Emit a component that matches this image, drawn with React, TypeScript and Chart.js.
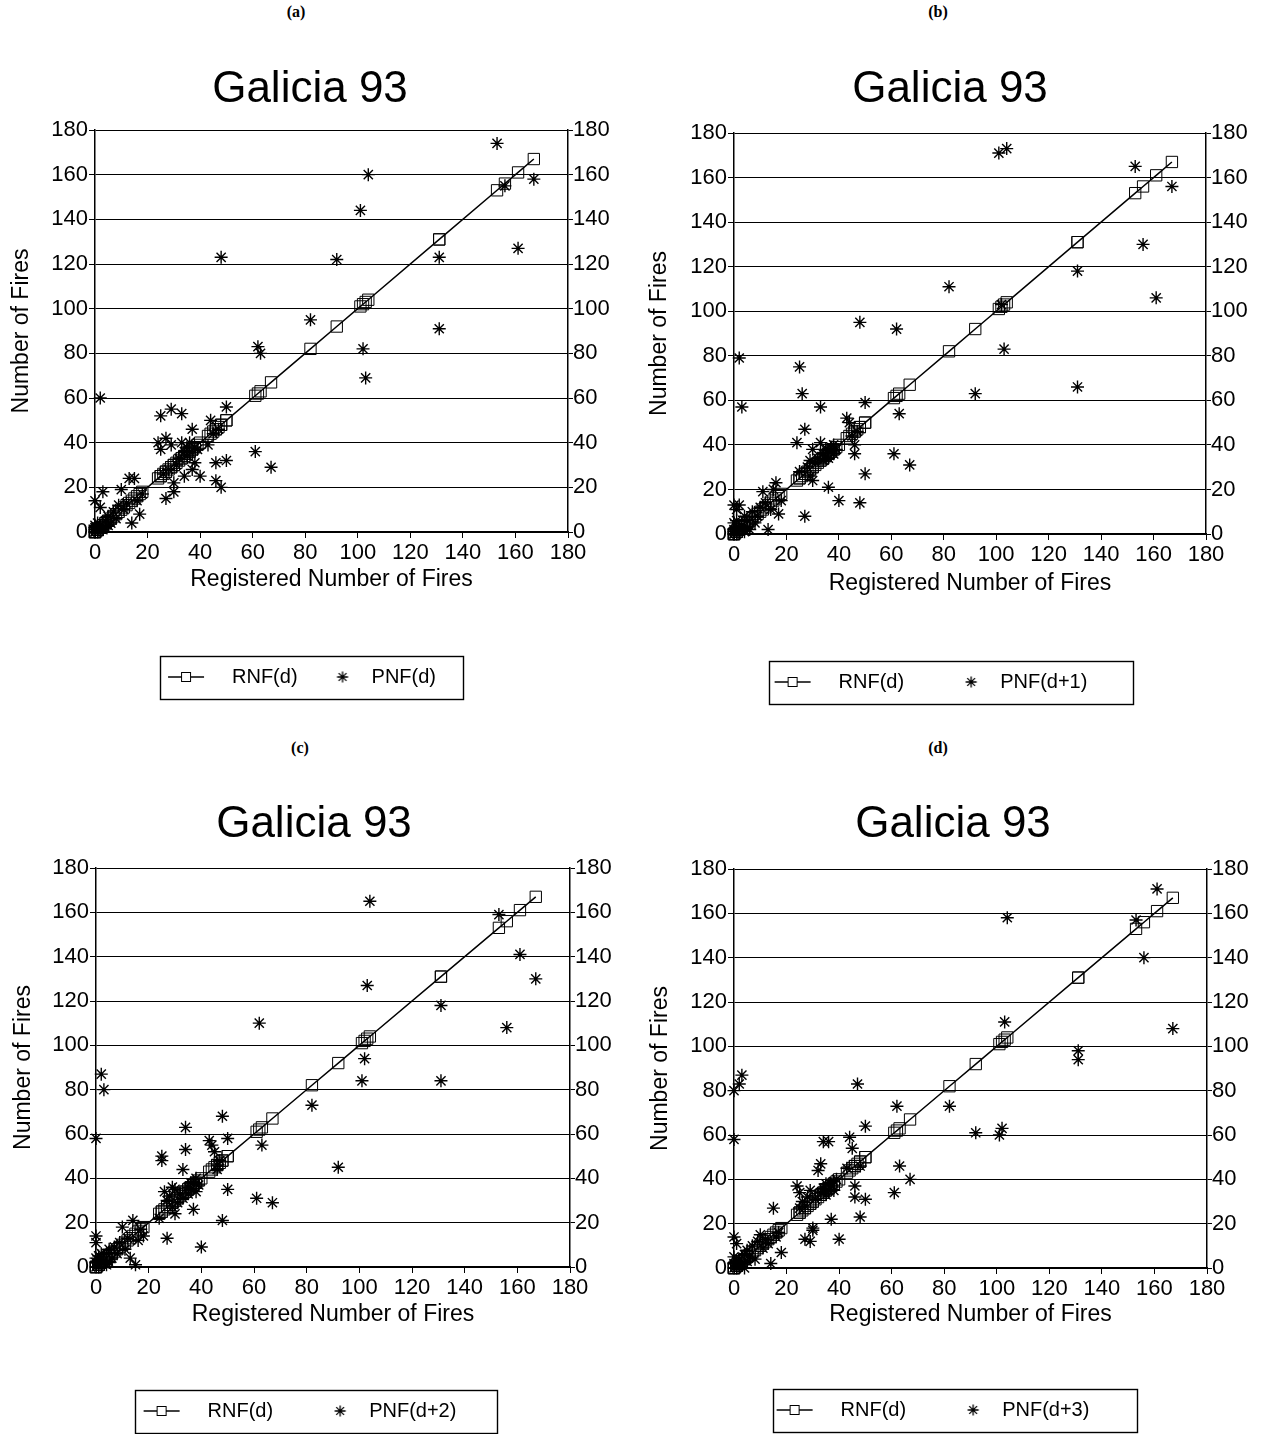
import React, { useEffect, useRef } from 'react';
import { Chart, registerables } from 'chart.js';

Chart.register(...registerables);

// ---------- data ----------
const registered = [
  0, 0, 0, 0, 0, 0, 1, 1, 1, 1, 2, 2, 2, 3, 3, 4, 4, 5, 5, 6, 7, 8, 9, 10, 11, 12, 13, 14, 15, 16, 17, 18,
  24, 25, 25, 26, 27, 27, 28, 29, 29, 30, 30, 31, 32, 33, 33, 34, 34, 35, 35, 36, 36, 37, 37, 38, 38, 39, 40,
  43, 44, 45, 46, 46, 47, 48, 48, 50, 50,
  61, 62, 63, 67, 82, 92, 101, 102, 103, 104, 131, 131, 153, 156, 161, 167,
];

const predictedD0 = [
  14, 0, 2, 1, 3, 0, 2, 0, 4, 1, 60, 11, 3, 18, 1, 5, 2, 7, 3, 4, 9, 6, 12, 19, 10, 13, 24, 4, 24, 14, 8, 17,
  40, 52, 37, 26, 42, 15, 28, 55, 39, 22, 18, 30, 33, 53, 40, 25, 36, 34, 38, 36, 40, 46, 28, 31, 38, 37, 25,
  39, 50, 44, 31, 23, 46, 123, 20, 56, 32,
  36, 83, 80, 29, 95, 122, 144, 82, 69, 160, 123, 91, 174, 155, 127, 158,
];

const predictedD1 = [
  13, 0, 2, 5, 1, 0, 11, 3, 0, 6, 79, 13, 2, 57, 4, 1, 8, 3, 6, 2, 10, 5, 8, 12, 19, 14, 2, 11, 20, 23, 9, 15,
  41, 75, 28, 63, 47, 8, 30, 26, 33, 38, 24, 32, 34, 57, 41, 33, 36, 38, 35, 21, 34, 39, 37, 40, 36, 38, 15,
  52, 50, 44, 40, 36, 46, 95, 14, 59, 27,
  36, 92, 54, 31, 111, 63, 171, 103, 83, 173, 118, 66, 165, 130, 106, 156,
];

const predictedD2 = [
  58, 14, 11, 2, 0, 4, 1, 3, 0, 5, 87, 2, 6, 80, 3, 1, 6, 8, 2, 4, 9, 6, 11, 18, 8, 13, 4, 21, 1, 12, 17, 14,
  22, 50, 48, 34, 13, 30, 32, 36, 27, 35, 24, 29, 33, 44, 31, 63, 53, 36, 33, 38, 35, 26, 38, 34, 40, 37, 9,
  57, 55, 52, 46, 44, 48, 68, 21, 58, 35,
  31, 110, 55, 29, 73, 45, 84, 94, 127, 165, 118, 84, 159, 108, 141, 130,
];

const predictedD3 = [
  80, 58, 14, 2, 0, 5, 11, 0, 3, 1, 83, 4, 1, 87, 2, 6, 0, 3, 8, 5, 10, 4, 12, 15, 9, 13, 11, 2, 27, 14, 16, 7,
  37, 34, 27, 30, 13, 28, 32, 35, 12, 18, 17, 31, 44, 47, 34, 57, 36, 33, 38, 57, 35, 22, 37, 39, 35, 40, 13,
  45, 59, 54, 37, 32, 83, 23, 46, 64, 31,
  34, 73, 46, 40, 73, 61, 60, 63, 111, 158, 98, 94, 157, 140, 171, 108,
];

const axisTicks = [0, 20, 40, 60, 80, 100, 120, 140, 160, 180];
const panelLabels = ['(a)', '(b)', '(c)', '(d)'];
const chartTitle = 'Galicia 93';
const registeredName = 'RNF(d)';
const predictedNames = ['PNF(d)', 'PNF(d+1)', 'PNF(d+2)', 'PNF(d+3)'];
const predictedSeries = [predictedD0, predictedD1, predictedD2, predictedD3];
const xAxisTitle = 'Registered Number of Fires';
const yAxisTitle = 'Number of Fires';

// ---------- layout ----------
const SANS = "'Liberation Sans', Arial, Helvetica, sans-serif";
const SERIF = "'Liberation Serif', 'Times New Roman', serif";
const CANVAS_W = 620;
const LEGEND_FONT = 20;
const LEGEND_PAD = 10;
const PAD_BOTTOM = 4;
const AXIS_TITLE_SIZE = 23;

const layouts = [
  { left: 0, top: 0, plotLeft: 95, plotRight: 568, plotTop: 130, plotBottom: 532, labelX: 296, labelY: 12, titleY: 90, xTitleY: 580, yTitleX: 22, legendCenter: 677, legendShift: 8, boxLeft: 160, boxRight: 463 },
  { left: 640, top: 0, plotLeft: 94, plotRight: 566, plotTop: 133, plotBottom: 534, labelX: 938, labelY: 12, titleY: 90, xTitleY: 584, yTitleX: 20, legendCenter: 682, legendShift: 30, boxLeft: 129, boxRight: 493 },
  { left: 4, top: 735, plotLeft: 92, plotRight: 566, plotTop: 133, plotBottom: 532, labelX: 300, labelY: 748, titleY: 90, xTitleY: 580, yTitleX: 20, legendCenter: 676, legendShift: 25, boxLeft: 131, boxRight: 493 },
  { left: 643, top: 735, plotLeft: 91, plotRight: 564, plotTop: 134, plotBottom: 533, labelX: 938, labelY: 748, titleY: 90, xTitleY: 580, yTitleX: 18, legendCenter: 675, legendShift: 31, boxLeft: 130, boxRight: 494 },
];

// line + square legend icon; image is 2W wide so it is centred on the W-wide legend box
function makeLineIcon(W: number) {
  const c = document.createElement('canvas');
  c.width = 2 * W;
  c.height = 16;
  const ctx = c.getContext('2d')!;
  const off = W / 2;
  const x1 = off + W - 54;
  const x2 = off + W - 18;
  ctx.strokeStyle = '#000';
  ctx.lineWidth = 1.3;
  ctx.beginPath();
  ctx.moveTo(x1, 8);
  ctx.lineTo(x2, 8);
  ctx.stroke();
  const cx = (x1 + x2) / 2;
  ctx.fillStyle = '#fff';
  ctx.fillRect(cx - 4.5, 3.5, 9, 9);
  ctx.lineWidth = 1;
  ctx.strokeRect(cx - 4.5, 3.5, 9, 9);
  return c;
}

function makeStarIcon(W: number) {
  const c = document.createElement('canvas');
  c.width = W;
  c.height = 16;
  const ctx = c.getContext('2d')!;
  const cx = W - 19;
  const cy = 8;
  const r = 5.5;
  ctx.strokeStyle = '#000';
  ctx.lineWidth = 1.3;
  ctx.beginPath();
  for (let k = 0; k < 4; k++) {
    const a = (k * Math.PI) / 4;
    ctx.moveTo(cx - r * Math.cos(a), cy - r * Math.sin(a));
    ctx.lineTo(cx + r * Math.cos(a), cy + r * Math.sin(a));
  }
  ctx.stroke();
  return c;
}

// shifts the legend items horizontally (before hit boxes are positioned) and frames them
const legendFrame = {
  id: 'legendFrame',
  afterLayout(chart: any, _args: any, opts: any) {
    const lg = chart.legend;
    if (!lg) return;
    lg.left -= opts.shift;
    lg.right -= opts.shift;
  },
  afterDraw(chart: any, _args: any, opts: any) {
    const lg = chart.legend;
    if (!lg || !lg.legendHitBoxes || !lg.legendHitBoxes.length) return;
    const hb = lg.legendHitBoxes;
    const cy = hb[0].top + hb[0].height / 2;
    const ctx = chart.ctx;
    ctx.save();
    ctx.strokeStyle = '#000';
    ctx.lineWidth = 1.4;
    ctx.strokeRect(opts.boxLeft + 0.5, Math.round(cy - 21.5) + 0.5, opts.boxRight - opts.boxLeft, 43);
    ctx.restore();
  },
};

function Panel({ idx }: { idx: number }) {
  const ref = useRef<HTMLCanvasElement | null>(null);
  const L = layouts[idx];
  const H = L.legendCenter + LEGEND_FONT / 2 + 10 + PAD_BOTTOM;

  useEffect(() => {
    const canvas = ref.current;
    if (!canvas) return;
    const legendH = LEGEND_FONT + LEGEND_PAD + 10;
    const legendTop = H - PAD_BOTTOM - legendH;
    const xAxisH = legendTop - L.plotBottom;
    const xTitlePadBottom = legendTop - AXIS_TITLE_SIZE / 2 - L.xTitleY;

    // equal-width legend columns: widen icon box by label width difference
    const mctx = document.createElement('canvas').getContext('2d')!;
    mctx.font = `${LEGEND_FONT}px ${SANS}`;
    const diff = Math.max(0, mctx.measureText(predictedNames[idx]).width - mctx.measureText(registeredName).width);
    const iconW = Math.round(54 + diff);
    const lineIcon = makeLineIcon(iconW);
    const starIcon = makeStarIcon(iconW);

    const preds = predictedSeries[idx];
    const tickFont = { family: SANS, size: 22 };

    const chart = new Chart(canvas, {
      type: 'scatter',
      data: {
        datasets: [
          {
            label: registeredName,
            data: registered.map((r) => ({ x: r, y: r })),
            showLine: true,
            borderColor: '#000',
            borderWidth: 1.5,
            backgroundColor: 'rgba(0,0,0,0)',
            pointStyle: 'rect',
            pointRadius: 8,
            pointBorderColor: '#000',
            pointBackgroundColor: 'rgba(0,0,0,0)',
            pointBorderWidth: 1,
            clip: false as any,
            xAxisID: 'x',
            yAxisID: 'y',
          },
          {
            label: predictedNames[idx],
            data: registered.map((r, i) => ({ x: r, y: preds[i] })),
            showLine: false,
            borderColor: '#000',
            backgroundColor: '#000',
            pointStyle: 'star',
            pointRadius: 6.5,
            pointBorderColor: '#000',
            pointBorderWidth: 1.4,
            clip: false as any,
            xAxisID: 'x',
            yAxisID: 'y',
          },
        ],
      },
      options: {
        animation: false,
        responsive: false,
        maintainAspectRatio: false,
        layout: { padding: { top: 0, left: 0, right: 0, bottom: PAD_BOTTOM } },
        events: [],
        scales: {
          x: {
            type: 'linear',
            position: 'bottom',
            min: 0,
            max: 180,
            afterBuildTicks: (s: any) => {
              s.ticks = axisTicks.map((v) => ({ value: v }));
            },
            afterFit: (s: any) => {
              s.height = xAxisH;
            },
            grid: { drawOnChartArea: false, drawTicks: true, tickLength: 6, color: '#000', lineWidth: 1 },
            border: { display: true, color: '#000', width: 1.5 },
            ticks: { font: tickFont, color: '#000', padding: 2, maxRotation: 0, autoSkip: false },
            title: {
              display: true,
              text: xAxisTitle,
              color: '#000',
              font: { family: SANS, size: AXIS_TITLE_SIZE, lineHeight: 1 },
              padding: { top: 0, bottom: xTitlePadBottom },
            },
          },
          y: {
            type: 'linear',
            position: 'left',
            min: 0,
            max: 180,
            afterBuildTicks: (s: any) => {
              s.ticks = axisTicks.map((v) => ({ value: v }));
            },
            afterFit: (s: any) => {
              s.width = L.plotLeft;
            },
            grid: { drawOnChartArea: true, drawTicks: true, tickLength: 6, color: '#000', lineWidth: 1 },
            border: { display: true, color: '#000', width: 1.5 },
            ticks: { font: tickFont, color: '#000', padding: 1 },
            title: {
              display: true,
              text: yAxisTitle,
              color: '#000',
              font: { family: SANS, size: AXIS_TITLE_SIZE, lineHeight: 1 },
              padding: { top: L.yTitleX - AXIS_TITLE_SIZE / 2, bottom: 0 },
            },
          },
          y2: {
            type: 'linear',
            axis: 'y',
            position: 'right',
            min: 0,
            max: 180,
            afterBuildTicks: (s: any) => {
              s.ticks = axisTicks.map((v) => ({ value: v }));
            },
            afterFit: (s: any) => {
              s.width = CANVAS_W - L.plotRight;
            },
            grid: { drawOnChartArea: false, drawTicks: true, tickLength: 5, color: '#000', lineWidth: 1 },
            border: { display: true, color: '#000', width: 1.5 },
            ticks: { font: tickFont, color: '#000', padding: 0 },
          },
        } as any,
        plugins: {
          title: {
            display: true,
            text: chartTitle,
            color: '#000',
            font: { family: SANS, size: 44, weight: 'normal', lineHeight: 1 },
            padding: { top: L.titleY - 22, bottom: L.plotTop - L.titleY - 22 },
          },
          legend: {
            display: true,
            position: 'bottom',
            labels: {
              usePointStyle: true,
              pointStyleWidth: iconW,
              padding: LEGEND_PAD,
              color: '#000',
              font: { family: SANS, size: LEGEND_FONT },
              generateLabels: (ch: any) => {
                const items = (Chart.defaults.plugins.legend.labels as any).generateLabels(ch);
                return items.map((it: any, i: number) => ({ ...it, pointStyle: i === 0 ? lineIcon : starIcon }));
              },
            },
          },
          tooltip: { enabled: false },
          legendFrame: { shift: L.legendShift, boxLeft: L.boxLeft, boxRight: L.boxRight },
        } as any,
      },
      plugins: [legendFrame as any],
    });
    return () => chart.destroy();
  }, []);

  return (
    <>
      <div
        style={{
          position: 'absolute',
          left: L.labelX - 40,
          top: L.labelY - 10,
          width: 80,
          height: 20,
          lineHeight: '20px',
          textAlign: 'center',
          fontFamily: SERIF,
          fontWeight: 'bold',
          fontSize: 16,
          color: '#000',
        }}
      >
        {panelLabels[idx]}
      </div>
      <canvas
        ref={ref}
        width={CANVAS_W}
        height={H}
        style={{ position: 'absolute', left: L.left, top: L.top, width: CANVAS_W, height: H }}
      />
    </>
  );
}

export default function App() {
  return (
    <div
      style={{
        position: 'absolute',
        left: 0,
        top: 0,
        width: 1265,
        height: 1434,
        background: '#fff',
        overflow: 'hidden',
      }}
    >
      {[0, 1, 2, 3].map((i) => (
        <Panel key={i} idx={i} />
      ))}
    </div>
  );
}
